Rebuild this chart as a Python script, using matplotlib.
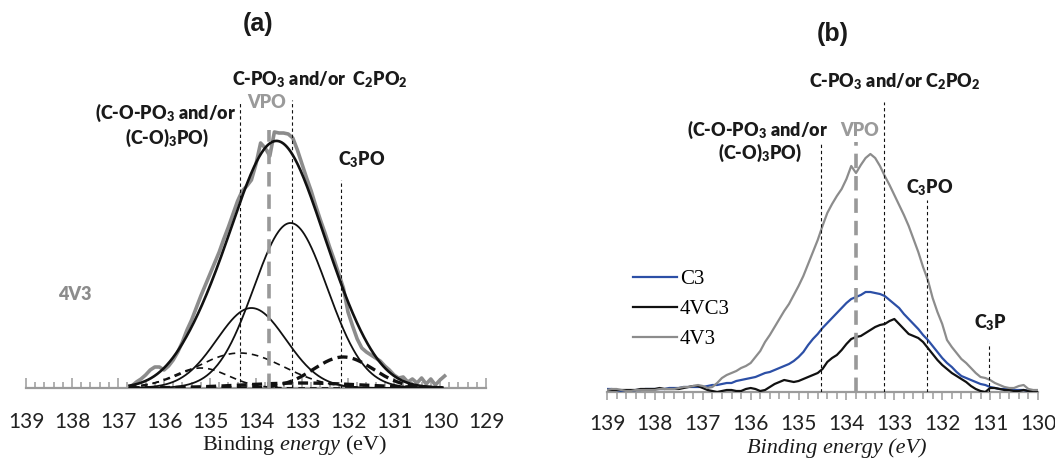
import numpy as np
import matplotlib
matplotlib.use("Agg")
import matplotlib.pyplot as plt
from matplotlib.ticker import MultipleLocator

plt.rcParams['font.family'] = ['Lato', 'DejaVu Sans']
plt.rcParams['mathtext.fontset'] = 'custom'
plt.rcParams['mathtext.rm'] = 'Liberation Serif'
plt.rcParams['mathtext.it'] = 'Liberation Serif:italic'
plt.rcParams['mathtext.bf'] = 'Lato:heavy'

# ---------------- panel (a): 4V3 spectrum and its fitted components ----------------
energy_a = np.round(np.arange(136.7, 129.85, -0.1), 1)
spectrum_4v3_a = [
    2, 6, 9, 13, 18, 21, 21, 18, 22, 28,
    36, 46, 58, 68, 80, 92, 103, 114, 125, 136,
    149, 161, 174, 187, 197, 202, 208, 224, 245, 240,
    232, 256, 255, 255, 254, 250, 238, 224, 210, 197,
    182, 168, 155, 141, 128, 114, 100, 76, 62, 49,
    40, 36, 33, 30, 27, 22, 18, 13, 10, 11,
    6, 9, 5, 10, 4, 9, 3, 8, 12,
]

# fitted Gaussian components: centre (eV), height (a.u.), sigma (eV)
peak_centers = [133.25, 134.10, 134.35, 135.20, 132.10, 133.00]
peak_heights = [165, 80, 35, 20, 31, 5]
peak_sigmas = [0.80, 0.75, 0.95, 0.60, 0.65, 1.30]
peak_styles = ['solid', 'solid', 'thin dash', 'thin dash', 'thick dash', 'thick dash']
fit_range = (136.75, 129.95)

ref_energy_a = [134.35, 133.22, 132.15]
ref_top_a = [285, 288, 208]
vpo_energy_a, vpo_top_a = 133.72, 258

# ---------------- panel (b): C3 / 4VC3 / 4V3 spectra ----------------
energy_b = np.round(np.arange(139.0, 129.95, -0.1), 1)
spectrum_c3 = [
    3, 3, 2, 1, 1, 1, 2, 2, 3, 3,
    3, 3, 3, 4, 4, 4, 5, 5, 5, 5,
    5, 6, 7, 7, 8, 9, 9, 11, 12, 13,
    14, 15, 17, 19, 20, 22, 24, 26, 28, 31,
    35, 40, 47, 53, 58, 64, 69, 74, 79, 84,
    89, 93, 95, 97, 100, 100, 99, 98, 96, 92,
    88, 84, 78, 73, 68, 63, 57, 52, 46, 40,
    34, 29, 25, 20, 16, 14, 12, 10, 8, 7,
    5, 4, 3, 3, 3, 2, 2, 2, 1, 1,
    1,
]
spectrum_4vc3 = [
    2, 2, 2, 2, 2, 2, 2, 3, 3, 3,
    3, 4, 3, 3, 3, 3, 4, 5, 6, 6,
    4, 2, 1, 0, 1, 2, 2, 1, 1, 3,
    4, 3, 1, 2, 5, 8, 10, 12, 11, 10,
    11, 13, 15, 17, 19, 23, 30, 34, 37, 42,
    48, 53, 55, 56, 59, 62, 65, 67, 68, 71,
    73, 68, 63, 58, 56, 54, 50, 44, 38, 32,
    27, 23, 19, 16, 13, 10, 6, 3, 1, 0,
    4, 4, 3, 2, 2, 1, 1, 2, 1, 1,
    1,
]
spectrum_4v3_b = [
    2, 3, 3, 2, 1, 1, 2, 2, 2, 2,
    2, 3, 3, 3, 3, 4, 5, 5, 6, 7,
    6, 4, 5, 9, 14, 17, 19, 21, 24, 26,
    29, 35, 41, 50, 57, 65, 73, 81, 88, 97,
    106, 116, 128, 140, 152, 166, 179, 188, 196, 203,
    213, 226, 219, 227, 234, 238, 234, 226, 216, 207,
    197, 187, 177, 166, 153, 140, 125, 112, 94, 80,
    68, 52, 45, 39, 33, 29, 24, 19, 15, 14,
    12, 9, 7, 5, 4, 4, 6, 7, 3, 2,
    2,
]
series_names = ['C3', '4VC3', '4V3']

ref_energy_b = [134.54, 133.22, 132.31, 131.03]
ref_top_b = [249, 290, 192, 49]
vpo_energy_b, vpo_top_b = 133.81, 250

# ---------------- figure layout ----------------
W, H = 1055, 463
fig = plt.figure(figsize=(W / 100, H / 100), dpi=100)


def rect(left, right, bottom, top):
    return [left / W, 1 - bottom / H, (right - left) / W, (bottom - top) / H]


ax_a = fig.add_axes(rect(26, 486, 388, 60))
ax_b = fig.add_axes(rect(607, 1038, 392, 60))

AXIS_GREY = '#9b9b9b'
SPEC_GREY = '#8c8c8c'
BLUE = '#2c4fa6'
DASH_THIN = (0, (3, 2.5))

for ax in (ax_a, ax_b):
    ax.set_facecolor('none')
    for side in ('top', 'left', 'right'):
        ax.spines[side].set_visible(False)
    ax.spines['bottom'].set_color(AXIS_GREY)
    ax.spines['bottom'].set_linewidth(1.6)
    ax.set_yticks([])
    ax.xaxis.set_major_locator(MultipleLocator(1))
    ax.xaxis.set_minor_locator(MultipleLocator(0.2))

ax_a.set_xlim(139, 129)
ax_a.set_ylim(0, 328)
ax_b.set_xlim(139, 130)
ax_b.set_ylim(0, 332)

ax_a.tick_params(axis='x', which='both', direction='in', color=AXIS_GREY,
                 labelcolor='#222222', labelsize=15, pad=17, width=1.1)
ax_a.tick_params(axis='x', which='major', length=7)
ax_a.tick_params(axis='x', which='minor', length=4.5)
ax_b.tick_params(axis='x', which='both', direction='out', color=AXIS_GREY,
                 labelcolor='#222222', labelsize=15, pad=10, width=1.1)
ax_b.tick_params(axis='x', which='major', length=6)
ax_b.tick_params(axis='x', which='minor', length=5)

# ---------------- panel (a) drawing ----------------
ax_a.plot(energy_a, spectrum_4v3_a, color=SPEC_GREY, lw=2.6, zorder=2,
          solid_joinstyle='round')

e_fit = np.linspace(fit_range[0], fit_range[1], 700)
components = []
for c, h, s in zip(peak_centers, peak_heights, peak_sigmas):
    components.append(h * np.exp(-(e_fit - c) ** 2 / (2 * s ** 2)))
envelope = np.sum(components, axis=0)

for comp, style in zip(components, peak_styles):
    if style == 'solid':
        ax_a.plot(e_fit, comp, color='#111111', lw=1.3, zorder=3)
    elif style == 'thin dash':
        ax_a.plot(e_fit, comp, color='#111111', lw=1.2, ls=(0, (4, 3)), zorder=3)
    else:
        ax_a.plot(e_fit, comp, color='#111111', lw=2.4, ls=(0, (3, 1.6)), zorder=3)
ax_a.plot(e_fit, envelope, color='#111111', lw=1.9, zorder=4)

ax_a.vlines(ref_energy_a, 0, ref_top_a, color='#111111', lw=0.8,
            linestyles=DASH_THIN, zorder=5)
ax_a.vlines(vpo_energy_a, 0, vpo_top_a, color='#999999', lw=2.6,
            linestyles=(0, (4, 2.2)), zorder=5)

bold = dict(fontsize=13, fontweight='heavy', color='#1a1a1a', ha='center', va='center')
ax_a.text(132.61, 308, r'C-PO$_\mathbf{3}$ and/or  C$_\mathbf{2}$PO$_\mathbf{2}$', **bold)
ax_a.text(135.96, 275, r'(C-O-PO$_\mathbf{3}$ and/or', **bold)
ax_a.text(135.93, 250, r'(C-O)$_\mathbf{3}$PO)', **bold)
ax_a.text(131.70, 228, r'C$_\mathbf{3}$PO', **bold)
ax_a.text(133.76, 286, 'VPO', **{**bold, 'color': '#9a9a9a'})
ax_a.text(137.93, 93, '4V3', **{**bold, 'color': '#8c8c8c'})

fig.text(295 / W, 1 - 445 / H, r'Binding $\mathit{energy}$ (eV)',
         family='Liberation Serif', fontsize=16, ha='center', va='center',
         color='#1a1a1a')
fig.text(258 / W, 1 - 24 / H, '(a)', family='Liberation Sans', fontsize=18,
         fontweight='bold', ha='center', va='center', color='#1a1a1a')

# ---------------- panel (b) drawing ----------------
lines = []
for vals, col in zip([spectrum_c3, spectrum_4vc3, spectrum_4v3_b],
                     [BLUE, '#111111', SPEC_GREY]):
    ln, = ax_b.plot(energy_b, vals, color=col, lw=1.6, zorder=3)
    lines.append(ln)

ax_b.vlines(ref_energy_b, 0, ref_top_b, color='#111111', lw=0.8,
            linestyles=DASH_THIN, zorder=4)
ax_b.vlines(vpo_energy_b, 0, vpo_top_b, color='#999999', lw=2.6,
            linestyles=(0, (4, 2.2)), zorder=4)

ax_b.text(132.99, 310, r'C-PO$_\mathbf{3}$ and/or C$_\mathbf{2}$PO$_\mathbf{2}$', **bold)
ax_b.text(135.85, 262, r'(C-O-PO$_\mathbf{3}$ and/or', **bold)
ax_b.text(135.81, 239, r'(C-O)$_\mathbf{3}$PO)', **bold)
ax_b.text(133.72, 262, 'VPO', **{**bold, 'color': '#9a9a9a'})
ax_b.text(132.26, 204, r'C$_\mathbf{3}$PO', **bold)
ax_b.text(131.00, 69, r'C$_\mathbf{3}$P', **bold)

ax_b.legend(lines, series_names, frameon=False, loc='center left',
            bbox_to_anchor=(633 / W, 1 - 309 / H), bbox_transform=fig.transFigure,
            prop={'family': 'Liberation Serif', 'size': 15},
            handlelength=2.1, handletextpad=0.15, labelspacing=0.5,
            borderpad=0, borderaxespad=0)

fig.text(837 / W, 1 - 448 / H, 'Binding energy (eV)', family='Liberation Serif',
         style='italic', fontsize=16, ha='center', va='center', color='#1a1a1a')
fig.text(833 / W, 1 - 34 / H, '(b)', family='Liberation Sans', fontsize=18,
         fontweight='bold', ha='center', va='center', color='#1a1a1a')

fig.savefig('out.png', dpi=100)
